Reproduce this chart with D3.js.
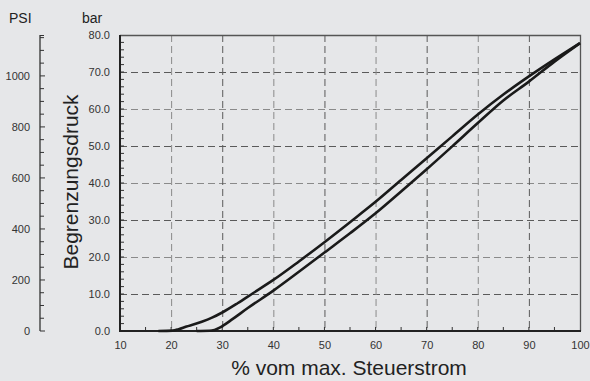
<!DOCTYPE html>
<html><head><meta charset="utf-8">
<script src="https://cdn.jsdelivr.net/npm/d3@7"></script>
<style>
html,body{margin:0;padding:0;background:#e6e7e9;}
svg{display:block;font-family:"Liberation Sans",Arial,sans-serif;}
</style></head>
<body><svg id="c" width="590" height="381"></svg>
<script>
// Data
const xTicks = [10,20,30,40,50,60,70,80,90,100];
const barTicks = [0,10,20,30,40,50,60,70,80];
const psiTicks = [0,200,400,600,800,1000];
const upperX = [17.5,20.3,21.5,23,24.5,26,28,30,33,36,40,45,50,55,60,65,70,75,80,85,90,95,100];
const upperY = [0,0.1,0.5,1.2,1.8,2.5,3.6,5.0,7.5,10.2,13.8,18.8,24.0,29.4,34.9,40.8,46.7,52.6,58.5,63.9,68.8,73.4,77.8];
const lowerX = [25,27.5,28.5,29.5,30,32,35,40,45,50,55,60,65,70,75,80,85,90,95,100];
const lowerY = [0,0.05,0.3,0.9,1.3,3.2,6.2,10.9,16.0,21.2,26.4,31.8,37.7,43.7,49.9,56.2,62.3,67.4,72.8,77.8];

const svg = d3.select("#c");
const L=120,R=580,T=35,B=331;
const x = d3.scaleLinear().domain([10,100]).range([L,R]);
const y = d3.scaleLinear().domain([0,80]).range([B,T]);
const psi = d3.scaleLinear().domain([0,80*14.5038]).range([B,T]);

// grid
svg.append("g").selectAll("line").data(barTicks.filter(d=>d>0&&d<80)).join("line")
  .attr("x1",L).attr("x2",R).attr("y1",d=>y(d)+0.5).attr("y2",d=>y(d)+0.5)
  .attr("stroke",(d,i)=>i%2?"#8a8a8a":"#5a5a5a").attr("stroke-width",1).attr("stroke-dasharray","7,4");
svg.append("g").selectAll("line").data(xTicks.filter(d=>d>10&&d<100)).join("line")
  .attr("y1",T).attr("y2",B).attr("x1",d=>x(d)+0.5).attr("x2",d=>x(d)+0.5)
  .attr("stroke",(d,i)=>i%2?"#5a5a5a":"#8a8a8a").attr("stroke-width",1).attr("stroke-dasharray","7,4");

// border top/right
svg.append("path").attr("d",`M${L},${T+0.5}H${R+0.5}V${B}`).attr("fill","none").attr("stroke","#555").attr("stroke-width",1.3);

// bottom axis
const xa = svg.append("g").attr("transform",`translate(0,${B})`)
  .call(d3.axisBottom(x).tickValues(xTicks).tickSize(0).tickPadding(10).tickFormat(d3.format("d")));
xa.select(".domain").remove();
xa.selectAll("text").attr("font-size",11).attr("fill","#333").attr("font-family","Liberation Sans, Arial, sans-serif");
svg.append("g").selectAll("line").data(d3.range(15,100,5)).join("line")
  .attr("x1",d=>x(d)).attr("x2",d=>x(d)).attr("y1",B).attr("y2",B-4).attr("stroke","#333").attr("stroke-width",1);

// left bar axis
const ya = svg.append("g").attr("transform",`translate(${L-10},0)`)
  .call(d3.axisLeft(y).tickValues(barTicks).tickSize(0).tickPadding(0).tickFormat(d3.format(".1f")));
ya.select(".domain").remove();
ya.selectAll("text").attr("font-size",11).attr("fill","#333").attr("font-family","Liberation Sans, Arial, sans-serif");
svg.append("g").selectAll("line").data(d3.range(2,80,2)).join("line")
  .attr("x1",L).attr("x2",L+4).attr("y1",d=>y(d)).attr("y2",d=>y(d)).attr("stroke","#333").attr("stroke-width",1);

// axis lines
svg.append("path").attr("d",`M${L},${T}V${B}H${R+1}`).attr("fill","none").attr("stroke","#222").attr("stroke-width",2);

// PSI axis
const PX=40;
svg.append("line").attr("x1",PX).attr("x2",PX).attr("y1",T).attr("y2",B).attr("stroke","#333").attr("stroke-width",1.3);
svg.append("g").selectAll("line").data(d3.range(0,1160,50)).join("line")
  .attr("x1",PX).attr("x2",d=>PX+(d%200===0?5:4)).attr("y1",d=>psi(d)).attr("y2",d=>psi(d)).attr("stroke","#333").attr("stroke-width",1);
svg.append("line").attr("x1",PX).attr("x2",PX+4).attr("y1",T+0.5).attr("y2",T+0.5).attr("stroke","#333");
svg.append("g").selectAll("text").data(psiTicks).join("text")
  .attr("x",30).attr("y",d=>psi(d)).attr("dy","0.35em").attr("text-anchor","end")
  .attr("font-size",11).attr("fill","#333").text(d=>d);

// curves
const line = d3.line().x(d=>x(d[0])).y(d=>y(d[1])).curve(d3.curveMonotoneX);
svg.append("path").datum(upperX.map((v,i)=>[v,upperY[i]])).attr("d",line)
  .attr("fill","none").attr("stroke","#1a1a1a").attr("stroke-width",2.6);
svg.append("path").datum(lowerX.map((v,i)=>[v,lowerY[i]])).attr("d",line)
  .attr("fill","none").attr("stroke","#1a1a1a").attr("stroke-width",2.6);

// titles
svg.append("text").attr("x",9).attr("y",23).attr("font-size",14).attr("fill","#222").text("PSI");
svg.append("text").attr("x",82).attr("y",23).attr("font-size",14).attr("fill","#222").text("bar");
svg.append("text").attr("transform","translate(78,182) rotate(-90)").attr("text-anchor","middle").attr("font-size",21).attr("fill","#222").text("Begrenzungsdruck");
svg.append("text").attr("x",349).attr("y",375).attr("text-anchor","middle").attr("font-size",21).attr("fill","#222").text("% vom max. Steuerstrom");
</script></body></html>
